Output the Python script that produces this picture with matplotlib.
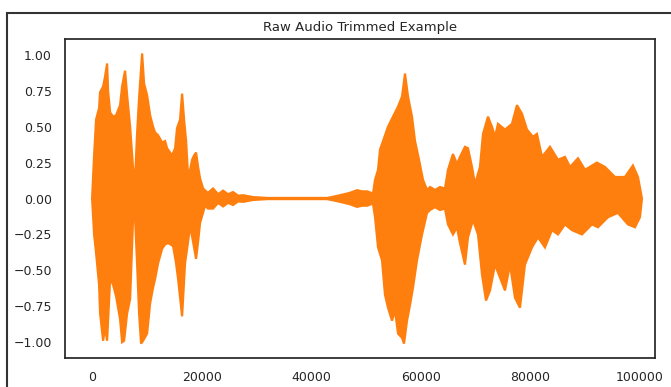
import numpy as np
import matplotlib
matplotlib.use('Agg')
from matplotlib import pyplot as plt
from matplotlib.patches import Rectangle
import seaborn as sns

# waveform envelope: sample index and amplitude
upper_x = [0, 365, 730, 1280, 1460, 2010, 2370, 2740,
           2920, 3290, 3830, 4380, 5110, 5480, 6020, 6390,
           6940, 7480, 7850, 8210, 8580, 9130, 9490, 10040,
           10590, 11130, 11500, 12050, 12780, 13320, 13690, 14600,
           15150, 15510, 16060, 16430, 16790, 17160, 17520, 17890,
           18250, 18620, 18980, 19350, 19710, 20260, 20810, 21170,
           22080, 23000, 23910, 24820, 25730, 26650, 27560, 29380,
           31940, 42890, 43980, 45810, 47090, 48360, 49280, 50190,
           51280, 51650, 52200, 52560, 53110, 54020, 54930, 55850,
           56580, 57120, 57670, 58400, 58950, 59680, 60410, 61140,
           61690, 62600, 63510, 64420, 64970, 65880, 66610, 67160,
           68070, 68620, 69350, 69900, 70810, 71360, 72270, 73000,
           73550, 74100, 75370, 76650, 77560, 78480, 79390, 80480,
           81210, 82130, 83590, 85050, 86320, 87240, 88700, 89970,
           92160, 93620, 95450, 97270, 98730, 99650, 100380]
upper_y = [0.0, 0.30, 0.55, 0.63, 0.74, 0.78, 0.85, 0.94,
           0.75, 0.60, 0.57, 0.58, 0.65, 0.78, 0.89, 0.72,
           0.50, 0.21, 0.14, 0.45, 0.70, 1.01, 0.80, 0.72,
           0.58, 0.50, 0.46, 0.44, 0.39, 0.40, 0.35, 0.30,
           0.35, 0.49, 0.55, 0.73, 0.55, 0.40, 0.16, 0.20,
           0.27, 0.30, 0.32, 0.22, 0.14, 0.07, 0.05, 0.04,
           0.07, 0.03, 0.055, 0.03, 0.045, 0.02, 0.023, 0.01,
           0.004, 0.004, 0.012, 0.028, 0.04, 0.058, 0.05, 0.05,
           0.035, 0.13, 0.20, 0.34, 0.40, 0.50, 0.57, 0.64,
           0.71, 0.87, 0.71, 0.57, 0.40, 0.27, 0.13, 0.06,
           0.08, 0.06, 0.08, 0.07, 0.20, 0.31, 0.24, 0.29,
           0.36, 0.35, 0.22, 0.10, 0.22, 0.45, 0.57, 0.50,
           0.43, 0.52, 0.48, 0.52, 0.65, 0.59, 0.48, 0.43,
           0.45, 0.29, 0.36, 0.27, 0.29, 0.22, 0.28, 0.20,
           0.25, 0.22, 0.15, 0.15, 0.23, 0.15, 0.0]

lower_x = [0, 365, 730, 1280, 1460, 2010, 2370, 2740,
           2920, 3290, 3830, 4380, 5110, 5480, 5840, 6390,
           6940, 7480, 7850, 8210, 8580, 8940, 9310, 10040,
           10590, 11130, 11500, 12050, 12780, 13320, 13870, 14780,
           15330, 15700, 16430, 16970, 17520, 17890, 18430, 18980,
           19350, 19710, 20620, 21170, 22080, 23000, 23910, 24820,
           25730, 26650, 27560, 29380, 31940, 42890, 43980, 45810,
           47090, 48360, 49280, 50190, 51280, 51650, 52200, 52930,
           53470, 54020, 54750, 55300, 55850, 56580, 56940, 57490,
           58040, 58580, 59310, 60230, 61140, 61690, 62600, 63510,
           64420, 64970, 65880, 66610, 67160, 68070, 68620, 69530,
           70450, 71180, 71910, 72640, 73550, 74460, 75370, 76290,
           77200, 78110, 79020, 80300, 81400, 82670, 83950, 85050,
           86320, 87600, 89430, 91250, 92350, 94170, 95990, 97820,
           99100, 100010, 100380]
lower_y = [0.0, -0.25, -0.38, -0.60, -0.80, -0.99, -0.90, -0.99,
           -0.85, -0.56, -0.60, -0.68, -0.84, -1.00, -0.99, -0.80,
           -0.70, -0.14, -0.14, -0.45, -0.80, -1.01, -0.99, -0.94,
           -0.73, -0.62, -0.56, -0.45, -0.35, -0.32, -0.31, -0.33,
           -0.45, -0.56, -0.82, -0.45, -0.30, -0.19, -0.30, -0.42,
           -0.30, -0.17, -0.05, -0.07, -0.07, -0.03, -0.055, -0.03,
           -0.045, -0.02, -0.023, -0.01, -0.004, -0.004, -0.012, -0.028,
           -0.04, -0.058, -0.05, -0.05, -0.035, -0.13, -0.34, -0.43,
           -0.67, -0.76, -0.85, -0.78, -0.94, -0.97, -1.01, -0.85,
           -0.74, -0.62, -0.43, -0.25, -0.10, -0.08, -0.06, -0.08,
           -0.07, -0.18, -0.25, -0.20, -0.31, -0.46, -0.27, -0.15,
           -0.25, -0.53, -0.71, -0.64, -0.46, -0.55, -0.64, -0.46,
           -0.69, -0.76, -0.46, -0.34, -0.27, -0.34, -0.22, -0.25,
           -0.18, -0.22, -0.25, -0.18, -0.20, -0.13, -0.10, -0.18,
           -0.20, -0.13, 0.0]

title = 'Raw Audio Trimmed Example'


def main():
    sns.set_theme(style='white')

    fig = plt.figure(figsize=(6.71, 3.87), dpi=100)
    ax = fig.add_axes([0.097, 0.075, 0.879, 0.824])

    xs = np.r_[upper_x, lower_x[::-1]]
    ys = np.r_[upper_y, lower_y[::-1]]
    ax.fill(xs, ys, color='#ff7f0e', lw=1.6, ec='#ff7f0e')

    ax.set_xlim(-4930, 102740)
    ax.set_ylim(-1.11, 1.11)
    ax.set_yticks(np.arange(-1.0, 1.01, 0.25))
    ax.set_xticks(np.arange(0, 100001, 20000))
    ax.tick_params(labelsize=9)
    ax.set_title(title, fontsize=9.5)

    # screenshot frame around the figure
    fig.patches.append(Rectangle((7 / 671, -0.1), 1.2, 1.1 - 13 / 387,
                                 transform=fig.transFigure, fill=False,
                                 ec='#333333', lw=1.5))

    fig.savefig('out.png', dpi=100)


if __name__ == '__main__':
    main()
